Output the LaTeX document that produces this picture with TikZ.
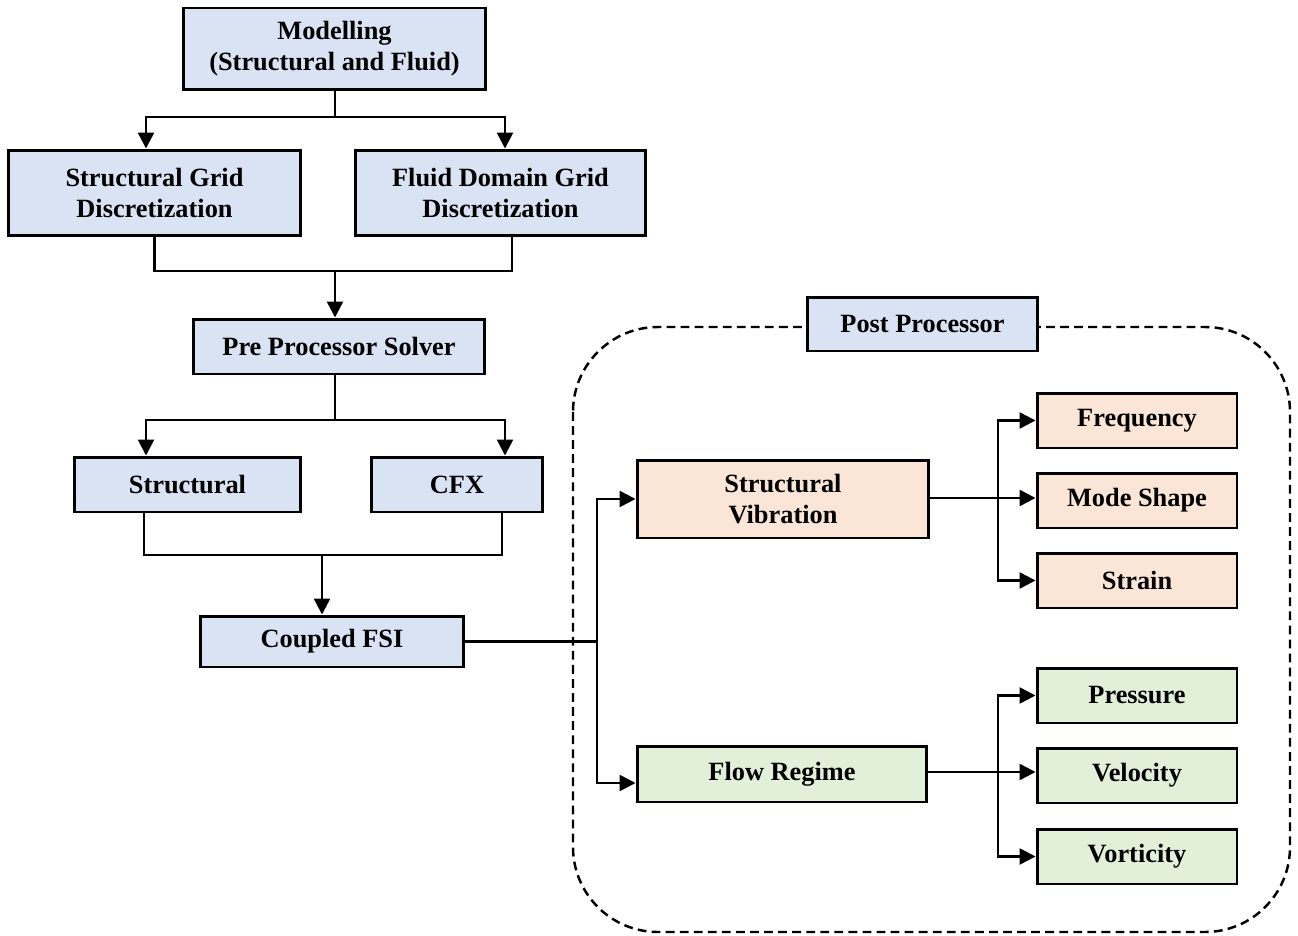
\documentclass[tikz,border=0pt]{standalone}
\usepackage{fontspec}
\setmainfont{Liberation Serif}
\usepackage{xcolor}
\usepackage{tikz}
\usetikzlibrary{arrows.meta}
\definecolor{BoxBlue}{HTML}{DAE3F3}
\definecolor{BoxOrange}{HTML}{FBE5D6}
\definecolor{BoxGreen}{HTML}{E2F0D9}

\begin{document}
\begin{tikzpicture}[x=0.02cm,y=-0.02cm,font=\fontsize{15}{17.6}\selectfont\bfseries,
    box/.style={draw=black,line width=1.7pt,align=center,inner sep=2pt},
    bluebox/.style={box,fill=BoxBlue},
    orangebox/.style={box,fill=BoxOrange},
    greenbox/.style={box,fill=BoxGreen},
    leafbox/.style={minimum width=4cm,minimum height=1.1cm},
    line/.style={line width=1.4pt},
    arrow/.style={line,-{Triangle[length=0.32cm,width=0.32cm]}}]
  \useasboundingbox (0,0) rectangle (1298,936);

  % Post processing frame
  \draw[line,dashed,dash pattern=on 5pt off 3pt,rounded corners=1.7cm]
    (573,327) rectangle (1290,932);

  % Pre-processing chain
  \node[bluebox,minimum width=6.06cm,minimum height=1.64cm] (model) at (334.5,49)
    {Modelling\\(Structural and Fluid)};
  \node[bluebox,minimum width=5.86cm,minimum height=1.72cm] (sgrid) at (154.5,193)
    {Structural Grid\\Discretization};
  \node[bluebox,minimum width=5.82cm,minimum height=1.72cm] (fgrid) at (500.5,193)
    {Fluid Domain Grid\\Discretization};
  \node[bluebox,minimum width=5.84cm,minimum height=1.1cm] (pre) at (339,346.5)
    {Pre Processor Solver};
  \node[bluebox,minimum width=4.54cm,minimum height=1.1cm] (struct) at (187.5,484.5)
    {Structural};
  \node[bluebox,minimum width=3.44cm,minimum height=1.1cm] (cfx) at (457,484.5)
    {CFX};
  \node[bluebox,minimum width=5.28cm,minimum height=1.02cm] (fsi) at (332,641.5)
    {Coupled FSI};

  % Post processor
  \node[bluebox,minimum width=4.62cm,minimum height=1.08cm] (post) at (922.5,324)
    {Post Processor};
  \node[orangebox,minimum width=5.84cm,minimum height=1.56cm] (svib) at (783,499)
    {Structural\\Vibration};
  \node[greenbox,minimum width=5.8cm,minimum height=1.12cm] (flow) at (782,774)
    {Flow Regime};

  \node[orangebox,leafbox] (freq) at (1137,420.5) {Frequency};
  \node[orangebox,leafbox] (mode) at (1137,500.5) {Mode Shape};
  \node[orangebox,leafbox] (strain) at (1137,580.5) {Strain};
  \node[greenbox,leafbox] (press) at (1137,695.5) {Pressure};
  \node[greenbox,leafbox] (vel) at (1137,775.5) {Velocity};
  \node[greenbox,leafbox] (vort) at (1137,856.5) {Vorticity};

  % Branch columns and joints
  \coordinate (lcol) at (146,0);
  \coordinate (rcol) at (505,0);
  \coordinate (split1) at (335,117);
  \coordinate (join1) at (335,271);
  \coordinate (split2) at (335,420);
  \coordinate (join2) at (322,555);
  \coordinate (fork) at (597,641.5);
  \coordinate (sfork) at (998,498);
  \coordinate (ffork) at (998,772);

  % Modelling to grids
  \draw[line] (split1 |- model.south) -- (split1);
  \draw[arrow] (split1) -| (sgrid.north -| lcol);
  \draw[arrow] (split1) -| (fgrid.north -| rcol);

  % Grids to pre processor
  \draw[line] (sgrid.south) |- (join1) -| (fgrid.south -| 512,0);
  \draw[arrow] (join1) -- (join1 |- pre.north);

  % Pre processor to solvers
  \draw[line] (split2 |- pre.south) -- (split2);
  \draw[arrow] (split2) -| (struct.north -| lcol);
  \draw[arrow] (split2) -| (cfx.north -| rcol);

  % Solvers to coupled FSI
  \draw[line] (struct.south -| 144,0) |- (join2) -| (cfx.south -| 502,0);
  \draw[arrow] (join2) -- (join2 |- fsi.north);

  % Coupled FSI to results
  \draw[line] (fsi.east) -- (fork);
  \draw[arrow] (fork) |- (svib.west);
  \draw[arrow] (fork) |- ([yshift=-0.18cm]flow.west);

  % Structural vibration outputs
  \draw[line] (svib.east |- sfork) -- (sfork);
  \draw[arrow] (sfork) |- (freq.west);
  \draw[arrow] (sfork) -- (sfork -| mode.west);
  \draw[arrow] (sfork) |- (strain.west);

  % Flow regime outputs
  \draw[line] (flow.east |- ffork) -- (ffork);
  \draw[arrow] (ffork) |- (press.west);
  \draw[arrow] (ffork) -- (ffork -| vel.west);
  \draw[arrow] (ffork) |- (vort.west);
\end{tikzpicture}
\end{document}
